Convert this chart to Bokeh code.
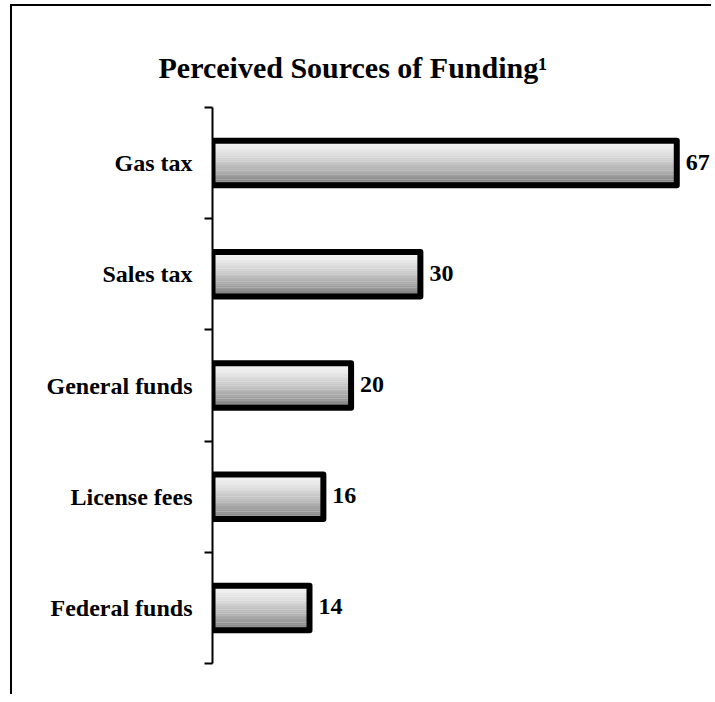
import numpy as np
from bokeh.plotting import figure
from bokeh.models import Range1d, FixedTicker, Title, ColumnDataSource, LabelSet
from bokeh.core.properties import value
from bokeh.embed import file_html
from bokeh.resources import INLINE

# ---- data ----
categories = ["Gas tax", "Sales tax", "General funds", "License fees", "Federal funds"]
values = [67, 30, 20, 16, 14]
title_text = "Perceived Sources of Funding\u00b9"

n = len(categories)
ys = [n - 0.5 - i for i in range(n)]  # top-first order
bar_h = 0.40
x_end = 72.3

p = figure(width=701, height=690, output_backend="svg", toolbar_location=None,
           x_range=Range1d(0, x_end), y_range=Range1d(0, n),
           min_border_left=200, min_border_right=0, min_border_top=101,
           min_border_bottom=33)
p.styles = {"border-top": "2px solid black", "border-left": "2px solid black",
            "margin-left": "10px", "margin-top": "4px"}
p.outline_line_color = None
p.xgrid.visible = False
p.ygrid.visible = False
p.xaxis.visible = False

# gradient strips inside bars
N = 24
sy, sr, sc = [], [], []
for i, (y, v) in enumerate(zip(ys, values)):
    for k in range(N):
        t = (k + 0.5) / N
        g = int(round(245 - 125 * t ** 1.4))
        sy.append(y + bar_h / 2 - t * bar_h)
        sr.append(v)
        sc.append("#%02x%02x%02x" % (g, g, g))
strips = ColumnDataSource(dict(y=sy, right=sr, color=sc))
p.hbar(y="y", left=0, right="right", height=bar_h / N * 1.08, source=strips,
       fill_color="color", line_color=None)

src = ColumnDataSource(dict(y=ys, v=values, label=[str(v) for v in values]))
p.hbar(y="y", left=0, right="v", height=bar_h, source=src, fill_color=None,
       line_color="black", line_width=6, line_join="round")

labels = LabelSet(x="v", y="y", text="label", source=src, x_offset=9, y_offset=1,
                  text_baseline="middle", text_align="left",
                  text_font="Liberation Serif", text_font_style="bold",
                  text_font_size="24px", text_color="black")
p.add_layout(labels)

ax = p.yaxis[0]
ax.ticker = FixedTicker(ticks=ys, minor_ticks=list(range(n + 1)))
ax.major_label_overrides = {y: c for y, c in zip(ys, categories)}
ax.major_tick_out = 0
ax.major_tick_in = 0
ax.minor_tick_out = 8
ax.minor_tick_in = 0
ax.minor_tick_line_width = 2
ax.minor_tick_line_color = "black"
ax.axis_line_width = 2
ax.axis_line_color = "black"
ax.major_label_standoff = 12
ax.major_label_text_font = "Liberation Serif"
ax.major_label_text_font_style = "bold"
ax.major_label_text_font_size = "24px"
ax.major_label_text_color = "black"

t = Title(text=title_text, text_font="Liberation Serif", text_font_size="30px",
          text_font_style="bold", text_color="black", align="left",
          offset=-54, standoff=48)
p.add_layout(t, "above")

open("out.html", "w").write(file_html(p, INLINE))
